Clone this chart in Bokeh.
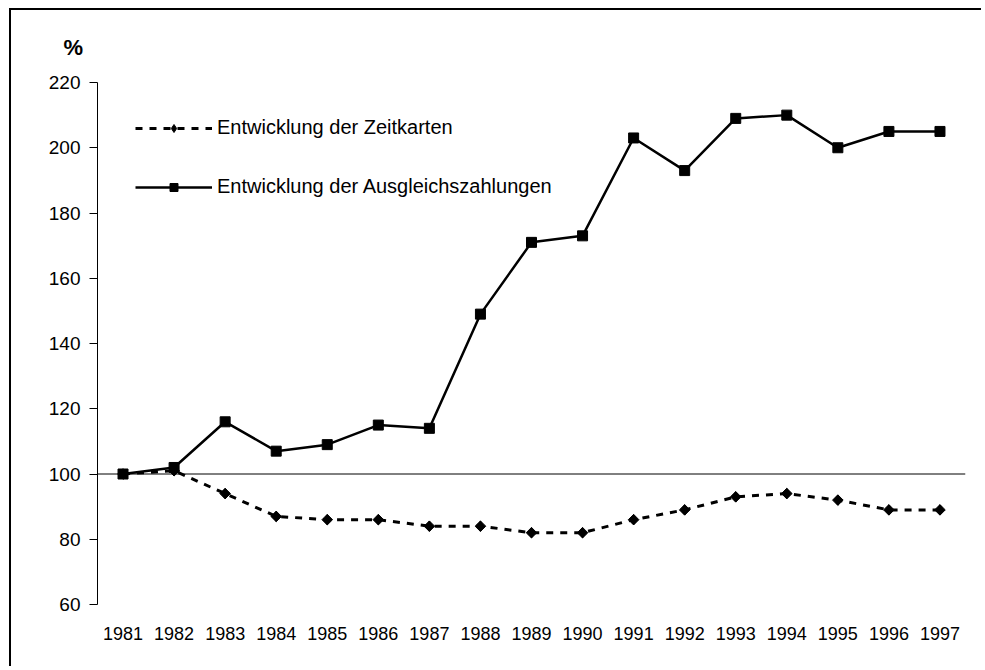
import math
from bokeh.plotting import figure
from bokeh.models import Span, Legend, LegendItem, FactorRange
from bokeh.embed import file_html
from bokeh.resources import INLINE

years = [str(y) for y in range(1981, 1998)]
zeitkarten = [100, 101, 94, 87, 86, 86, 84, 84, 82, 82, 86, 89, 93, 94, 92, 89, 89]
ausgleich = [100, 102, 116, 107, 109, 115, 114, 149, 171, 173, 203, 193, 209, 210, 200, 205, 205]
y_ticks = [60, 80, 100, 120, 140, 160, 180, 200, 220]
label_z = "Entwicklung der Zeitkarten"
label_a = "Entwicklung der Ausgleichszahlungen"
unit_label = "%"

FONT = "Liberation Sans"

p = figure(width=972, height=658,
           x_range=FactorRange(*years, range_padding=0),
           y_range=(60, 220),
           output_backend="svg", toolbar_location=None,
           min_border_left=86, min_border_right=18,
           min_border_top=72, min_border_bottom=64)
p.styles = {"border-left": "2px solid black", "border-top": "2px solid black",
            "margin-left": "9px", "margin-top": "8px"}
p.outline_line_color = None
p.xgrid.grid_line_color = None
p.ygrid.grid_line_color = None

p.title.text = unit_label
p.title.align = "left"
p.title.offset = -34
p.title.standoff = 45
p.title.text_font = FONT
p.title.text_font_style = "bold"
p.title.text_font_size = "22px"
p.title.text_color = "black"

p.yaxis.ticker = y_ticks
p.yaxis.axis_line_color = "black"
p.yaxis.axis_line_width = 1
p.yaxis.major_tick_line_color = "black"
p.yaxis.major_tick_out = 8
p.yaxis.major_tick_in = 0
p.yaxis.minor_tick_line_color = None
p.yaxis.major_label_text_font = FONT
p.yaxis.major_label_text_font_size = "19px"
p.yaxis.major_label_text_color = "black"
p.yaxis.major_label_standoff = 9

p.xaxis.axis_line_color = None
p.xaxis.major_tick_line_color = None
p.xaxis.minor_tick_line_color = None
p.xaxis.major_label_text_font = FONT
p.xaxis.major_label_text_font_size = "18px"
p.xaxis.major_label_text_color = "black"
p.xaxis.major_label_standoff = 16

p.add_layout(Span(location=100, dimension="width", line_color="black", line_width=1))

r1 = p.line(years, zeitkarten, line_color="black", line_width=3, line_dash="7 7")
# plain diamond underneath (used for the legend glyph), rotated square on top
d1 = p.scatter(years, zeitkarten, marker="diamond", size=10,
               fill_color="black", line_color="black")
s1 = p.scatter(years, zeitkarten, marker="square", angle=math.pi / 4, size=7.5,
               fill_color="black", line_color="black")
r2 = p.line(years, ausgleich, line_color="black", line_width=2.5)
s2 = p.scatter(years, ausgleich, marker="square", size=10,
               fill_color="black", line_color="black")

legend = Legend(items=[LegendItem(label=label_z, renderers=[r1, d1]),
                       LegendItem(label=label_a, renderers=[r2, s2])],
                location=(38, 406), glyph_width=77, glyph_height=20,
                label_height=20, spacing=36, padding=0, margin=0,
                label_standoff=5, border_line_color=None,
                background_fill_alpha=0,
                label_text_font=FONT, label_text_font_size="20px",
                label_text_color="black")
p.add_layout(legend)

open("out.html", "w").write(file_html(p, INLINE))
